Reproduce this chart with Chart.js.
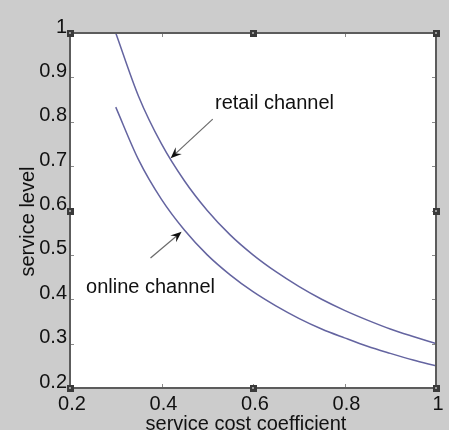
<!DOCTYPE html>
<html>
<head>
<meta charset="utf-8">
<script src="https://cdn.jsdelivr.net/npm/chart.js@4"></script>
<style>
  html, body { margin: 0; padding: 0; background: #cccccc; }
  #wrap { width: 449px; height: 430px; }
</style>
</head>
<body>
<div id="wrap"><canvas id="c" width="449" height="430"></canvas></div>
<script>
// Service cost coefficient (x) and the resulting service level of each channel
const costCoefficient = [0.30, 0.35, 0.40, 0.45, 0.50, 0.55, 0.60, 0.65, 0.70, 0.75, 0.80, 0.85, 0.90, 0.95, 1.00];
const retailLevel     = [1.00, 0.857, 0.75, 0.667, 0.60, 0.545, 0.50, 0.462, 0.429, 0.40, 0.375, 0.353, 0.333, 0.316, 0.30];
const onlineLevel     = [0.833, 0.714, 0.625, 0.556, 0.50, 0.455, 0.417, 0.385, 0.357, 0.333, 0.313, 0.294, 0.278, 0.263, 0.25];

const xTickLabels = ['0.2', '0.4', '0.6', '0.8', '1'];
const yTickLabels = ['0.2', '0.3', '0.4', '0.5', '0.6', '0.7', '0.8', '0.9', '1'];

// Text annotations with arrows pointing at each curve (data units)
const noteLabels = ['retail channel', 'online channel'];
const noteTextAt = [[0.517, 0.842], [0.235, 0.426]];
const arrowFrom  = [[0.512, 0.806], [0.376, 0.493]];
const arrowTo    = [[0.420, 0.718], [0.444, 0.552]];

const FONT = '"Liberation Sans", Arial, Helvetica, sans-serif';
const INK = '#111111';
const CURVE = 'rgb(100, 100, 160)';

const toPoints = ys => costCoefficient.map((x, i) => ({ x, y: ys[i] }));

const frame = {
  id: 'frame',
  beforeDraw(chart) {
    const { ctx, chartArea: a } = chart;
    ctx.save();
    ctx.fillStyle = '#cccccc';
    ctx.fillRect(0, 0, chart.width, chart.height);
    ctx.fillStyle = '#ffffff';
    ctx.fillRect(a.left, a.top, a.right - a.left, a.bottom - a.top);
    ctx.restore();
  },
  afterDraw(chart) {
    const { ctx, chartArea: a, scales: { x, y } } = chart;
    ctx.save();

    // inward tick marks on all four sides
    ctx.strokeStyle = '#8a8a8a';
    ctx.lineWidth = 1;
    const tl = 4;
    ctx.beginPath();
    x.ticks.forEach(t => {
      const px = Math.round(x.getPixelForValue(t.value)) + 0.5;
      ctx.moveTo(px, a.bottom); ctx.lineTo(px, a.bottom - tl);
      ctx.moveTo(px, a.top); ctx.lineTo(px, a.top + tl);
    });
    y.ticks.forEach(t => {
      const py = Math.round(y.getPixelForValue(t.value)) + 0.5;
      ctx.moveTo(a.left, py); ctx.lineTo(a.left + tl, py);
      ctx.moveTo(a.right, py); ctx.lineTo(a.right - tl, py);
    });
    ctx.stroke();

    // plot frame
    ctx.strokeStyle = '#5c5c5c';
    ctx.lineWidth = 2;
    ctx.strokeRect(a.left, a.top, a.right - a.left, a.bottom - a.top);

    // small square handles at corners and edge midpoints
    const mx = (a.left + a.right) / 2, my = (a.top + a.bottom) / 2;
    const handles = [[a.left, a.top], [mx, a.top], [a.right, a.top], [a.right, my],
                     [a.right, a.bottom], [mx, a.bottom], [a.left, a.bottom], [a.left, my]];
    handles.forEach(([hx, hy]) => {
      ctx.fillStyle = '#3a3a3a';
      ctx.fillRect(Math.round(hx) - 3, Math.round(hy) - 3, 7, 7);
      ctx.fillStyle = '#9a9a9a';
      ctx.fillRect(Math.round(hx) - 1, Math.round(hy) - 1, 2, 2);
    });

    // arrows
    arrowFrom.forEach((from, i) => {
      const x0 = x.getPixelForValue(from[0]), y0 = y.getPixelForValue(from[1]);
      const x1 = x.getPixelForValue(arrowTo[i][0]), y1 = y.getPixelForValue(arrowTo[i][1]);
      const ang = Math.atan2(y1 - y0, x1 - x0);
      const len = 11, half = 4.5, notch = 7;
      ctx.strokeStyle = '#6a6a6a';
      ctx.lineWidth = 1.2;
      ctx.beginPath();
      ctx.moveTo(x0, y0);
      ctx.lineTo(x1 - Math.cos(ang) * notch, y1 - Math.sin(ang) * notch);
      ctx.stroke();
      const bx = x1 - Math.cos(ang) * len, by = y1 - Math.sin(ang) * len;
      const nx = -Math.sin(ang), ny = Math.cos(ang);
      ctx.fillStyle = '#111111';
      ctx.beginPath();
      ctx.moveTo(x1, y1);
      ctx.lineTo(bx + nx * half, by + ny * half);
      ctx.lineTo(x1 - Math.cos(ang) * notch, y1 - Math.sin(ang) * notch);
      ctx.lineTo(bx - nx * half, by - ny * half);
      ctx.closePath();
      ctx.fill();
    });

    // annotation text
    ctx.fillStyle = INK;
    ctx.font = '20px ' + FONT;
    ctx.textAlign = 'left';
    ctx.textBaseline = 'middle';
    noteLabels.forEach((txt, i) => {
      ctx.fillText(txt, x.getPixelForValue(noteTextAt[i][0]), y.getPixelForValue(noteTextAt[i][1]));
    });

    // axis titles
    ctx.textAlign = 'center';
    ctx.textBaseline = 'alphabetic';
    ctx.fillText('service cost coefficient', mx - 7, chart.height - 0.5);
    ctx.translate(34, my + 11);
    ctx.rotate(-Math.PI / 2);
    ctx.fillText('service level', 0, 0);
    ctx.restore();
  }
};

new Chart(document.getElementById('c'), {
  type: 'line',
  data: {
    datasets: [
      { label: 'retail channel', data: toPoints(retailLevel), borderColor: CURVE, borderWidth: 1.5,
        pointRadius: 0, cubicInterpolationMode: 'monotone', fill: false },
      { label: 'online channel', data: toPoints(onlineLevel), borderColor: CURVE, borderWidth: 1.5,
        pointRadius: 0, cubicInterpolationMode: 'monotone', fill: false }
    ]
  },
  options: {
    responsive: false,
    animation: false,
    events: [],
    layout: { padding: { top: 33, right: 13, left: 0, bottom: 0 } },
    plugins: { legend: { display: false }, tooltip: { enabled: false } },
    scales: {
      x: {
        type: 'linear', min: 0.2, max: 1,
        grid: { display: false, drawTicks: false },
        border: { display: false },
        ticks: {
          stepSize: 0.2, color: INK, padding: 4, maxRotation: 0, labelOffset: 2,
          font: { family: FONT, size: 20 },
          callback: v => xTickLabels[Math.round((v - 0.2) / 0.2)]
        },
        afterFit: s => { s.height = 42; }
      },
      y: {
        type: 'linear', min: 0.2, max: 1,
        grid: { display: false, drawTicks: false },
        border: { display: false },
        ticks: {
          stepSize: 0.1, color: INK, padding: 3, labelOffset: -6,
          font: { family: FONT, size: 20 },
          callback: v => yTickLabels[Math.round((v - 0.2) / 0.1)]
        },
        afterFit: s => { s.width = 70; }
      }
    }
  },
  plugins: [frame]
});
</script>
</body>
</html>
